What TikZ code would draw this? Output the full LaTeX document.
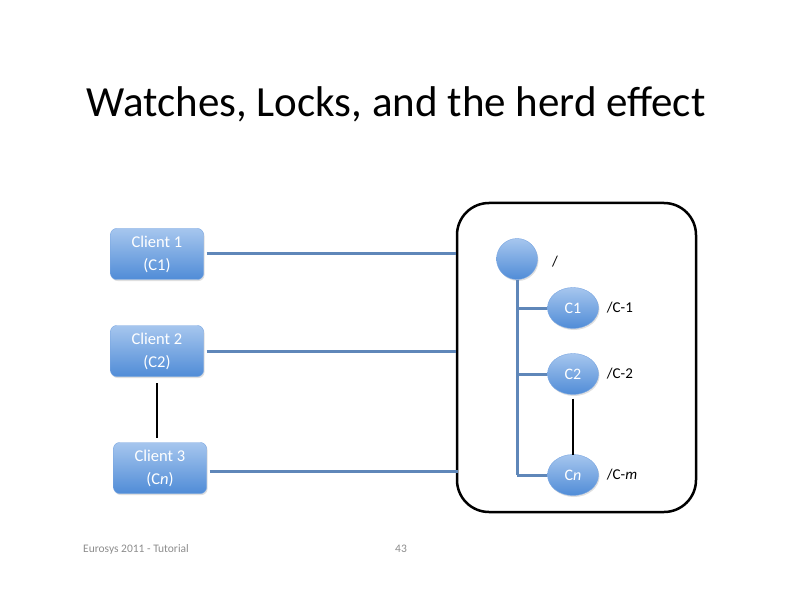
\documentclass[tikz,border=0pt]{standalone}
\usepackage{fontspec}
\setmainfont{Carlito}
\usetikzlibrary{positioning,shadows,shapes.geometric}
\definecolor{nodetop}{RGB}{166,198,238}
\definecolor{nodebot}{RGB}{80,140,215}
\definecolor{nodeedge}{RGB}{120,165,225}
\definecolor{linkblue}{RGB}{95,135,185}
\definecolor{footgray}{RGB}{140,140,140}

\begin{document}
\begin{tikzpicture}[
    x=1pt, y=-1pt,
    client/.style={rounded corners=6pt, draw=nodeedge, top color=nodetop, bottom color=nodebot,
        minimum width=93pt, minimum height=51pt, inner sep=1pt, align=center, text=white, font=\fontsize{16.5}{23}\selectfont,
        drop shadow={shadow xshift=1pt, shadow yshift=-1.5pt, opacity=0.25}},
    znode/.style={ellipse, draw=nodeedge, top color=nodetop, bottom color=nodebot,
        minimum width=51pt, minimum height=41pt, inner sep=0pt, text=white, font=\fontsize{16}{18}\selectfont,
        drop shadow={shadow xshift=1pt, shadow yshift=-1.5pt, opacity=0.25}},
    link/.style={draw=linkblue, line width=3pt},
    pathname/.style={font=\fontsize{15}{18}\selectfont, anchor=west},
    every node/.style={inner sep=2pt}
]
\useasboundingbox (0,0) rectangle (792,612);

\node[font=\fontsize{43}{50}\selectfont] (title) at (396,104) {Watches, Locks, and the herd effect};

% clients
\node[client] (cl1) at (157,254) {Client 1\\(C1)};
\node[client] (cl2) at (157,351) {Client 2\\(C2)};
\node[client] (cl3) at (160,468) {Client 3\\(C\textit{n})};
\draw[line width=2.5pt] (157,383) -- (157,438);

% zookeeper service
\node[draw, line width=2.5pt, rounded corners=32pt, minimum width=239pt, minimum height=309pt] (server) at (576.5,357.5) {};

\node[znode, circle, minimum size=41pt] (root) at (517,259) {};
\node[pathname] (rootname) at (550,262) {/};
\node[znode] (zc1) at (573,308) {C1};
\node[znode] (zc2) at (573,374) {C2};
\node[znode] (zcn) at (573,475) {C\textit{n}};
\node[pathname, right=6pt of zc1] (p1) {/C-1};
\node[pathname, right=6pt of zc2] (p2) {/C-2};
\node[pathname, right=6pt of zcn] (pm) {/C-\textit{m}};

\draw[link] (root.south) -- (root.south |- zcn.west);
\draw[link] (root.south |- zc1.west) -- (zc1.west);
\draw[link] (root.south |- zc2.west) -- (zc2.west);
\draw[link] (root.south |- zcn.west) -- (zcn.west);
\draw[line width=2.5pt] (zc2.south) ++(0,4) -- ([yshift=-1pt]zcn.north);

% watch links
\draw[link] ([xshift=3pt]cl1.east) -- (cl1.east -| server.west);
\draw[link] ([xshift=3pt]cl2.east) -- (cl2.east -| server.west);
\draw[link] ([xshift=3pt]cl3.east) ++(0,3) -- ++(248,0);

% footer
\node[text=footgray, font=\fontsize{11.5}{13}\selectfont, anchor=west] (foot) at (81,549) {Eurosys 2011 - Tutorial};
\node[text=footgray, font=\fontsize{11.5}{13}\selectfont] (page) at (401,549) {43};
\end{tikzpicture}
\end{document}
